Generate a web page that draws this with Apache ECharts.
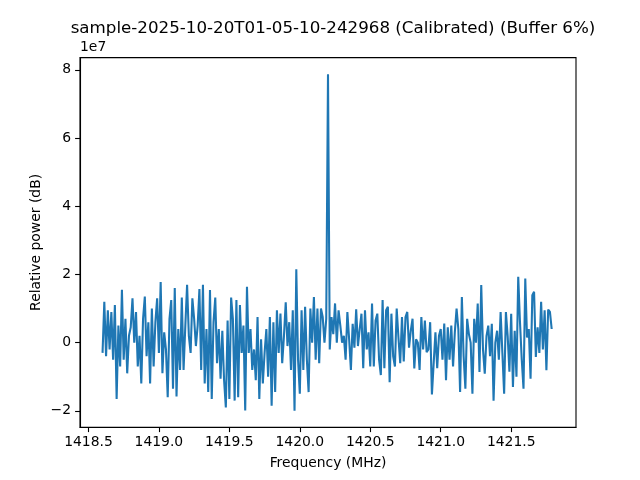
<!DOCTYPE html>
<html>
<head>
<meta charset="utf-8">
<script src="https://cdn.jsdelivr.net/npm/echarts@6/dist/echarts.min.js"></script>
<style>html,body{margin:0;padding:0;background:#fff}#c{width:640px;height:480px}</style>
</head>
<body>
<div id="c"></div>
<script>
// Frequency bins (MHz): start and step of the spectrum bins
var freqStart = 1418.6;
var freqStep = 0.0125;
// Relative power values, in units of 1e7
var power = [
-0.3,1.2,-0.4,0.95,-0.2,0.9,-0.5,1.1,-1.65,0.5,
-0.7,1.55,-0.5,0.7,-0.9,0.2,0.45,1.3,0.0,0.9,
-0.7,0.2,-1.2,0.7,1.35,-0.4,0.6,-1.2,1.0,-0.7,
0.6,1.3,-0.3,1.78,-0.9,0.3,-0.2,-1.6,0.7,1.25,
-1.35,1.6,-1.58,0.4,-0.8,1.32,-0.8,0.5,1.7,0.2,
-0.3,1.3,0.7,-0.1,0.5,1.57,-0.8,1.7,-1.2,0.4,
-1.45,1.54,-1.65,0.6,1.32,-0.6,0.4,-1.06,0.35,-1.1,
-1.9,0.65,-1.65,1.32,0.7,-1.7,1.25,-1.6,1.1,-0.3,
0.5,-1.99,1.64,-0.3,0.4,-0.8,-0.2,-1.1,0.75,-1.65,
0.1,-1.2,-0.3,0.4,-1.0,0.75,-1.85,0.6,-1.45,0.95,
-0.3,0.85,-0.6,0.2,1.18,-0.1,0.6,-0.8,0.95,-2.0,
2.15,-0.5,-1.5,0.95,-0.8,1.05,-0.5,-1.45,1.0,0.0,
1.34,-0.5,1.0,-0.6,1.0,0.75,0.0,0.7,7.87,-0.2,
0.75,0.25,1.15,0.0,0.95,0.5,0.0,0.2,-0.5,0.9,
0.1,-0.8,0.55,-0.15,0.98,-0.1,0.4,0.85,-0.75,0.95,
-0.2,0.3,-0.7,1.15,-0.7,0.65,0.85,-0.5,-0.95,1.25,
-0.75,0.95,1.05,-1.16,0.85,-0.4,-0.7,1.0,0.15,-0.6,
0.75,-0.55,0.75,0.9,-0.15,0.35,0.7,-0.76,0.1,0.0,
-0.8,0.75,-0.2,0.65,-0.28,-0.2,0.6,-1.52,-0.6,0.3,
-0.75,0.2,0.4,-0.5,0.56,-1.1,0.45,-0.5,0.5,-0.7,
0.3,1.0,0.4,-1.45,1.34,-0.4,-1.35,0.7,0.25,0.0,
-1.5,0.7,0.0,1.15,-0.86,1.69,-0.2,-0.91,0.2,0.5,
-0.4,0.55,-1.7,0.0,0.35,-0.5,0.9,-0.3,-1.5,0.9,
0.2,-0.85,0.85,-1.3,0.35,-1.0,1.93,0.6,-0.5,-1.35,
1.88,0.15,0.4,-1.06,1.39,1.49,-0.42,0.45,-0.3,1.2,
-0.2,0.95,-0.81,0.97,0.9,0.4
];
var scaleExp = 1e7;
var xTicks = [1418.5, 1419.0, 1419.5, 1420.0, 1420.5, 1421.0, 1421.5];
var yTicks = [-2e7, 0, 2e7, 4e7, 6e7, 8e7];
var titleText = 'sample-2025-10-20T01-05-10-242968 (Calibrated) (Buffer 6%)';

var data = power.map(function (v, i) { return [freqStart + i * freqStep, v * scaleExp]; });

var FONT = 'DejaVu Sans';
var chart = echarts.init(document.getElementById('c'), null, {renderer: 'canvas'});
chart.setOption({
  animation: false,
  backgroundColor: '#fff',
  textStyle: {fontFamily: FONT},
  title: {
    text: titleText,
    left: 328, top: 15, textAlign: 'center',
    textStyle: {fontFamily: FONT, fontSize: 16.7, fontWeight: 'normal', color: '#000'}
  },
  graphic: [{
    type: 'text', left: 80, top: 40,
    style: {text: '1e7', fontFamily: FONT, fontSize: 13.9, fill: '#000'}
  }],
  grid: {left: 80, right: 64, top: 57.6, bottom: 52.8, show: true, borderColor: '#000', borderWidth: 1.1, backgroundColor: 'transparent'},
  xAxis: {
    type: 'value', min: 1418.44, max: 1421.96,
    name: 'Frequency (MHz)', nameLocation: 'middle', nameGap: 29, nameMoveOverlap: false,
    nameTextStyle: {fontFamily: FONT, fontSize: 13.9, color: '#000'},
    axisLine: {show: true, onZero: false, lineStyle: {color: '#000', width: 1.1}},
    axisTick: {show: true, inside: false, length: 4.9, lineStyle: {color: '#000', width: 1.1}, customValues: xTicks},
    axisLabel: {customValues: xTicks, margin: 8, fontFamily: FONT, fontSize: 13.9, color: '#000',
      formatter: function (v) { return v.toFixed(1); }},
    splitLine: {show: false}
  },
  yAxis: {
    type: 'value', min: -2.48e7, max: 8.36e7,
    name: 'Relative power (dB)', nameLocation: 'middle', nameGap: 37, nameMoveOverlap: false,
    nameTextStyle: {fontFamily: FONT, fontSize: 13.9, color: '#000'},
    axisLine: {show: true, onZero: false, lineStyle: {color: '#000', width: 1.1}},
    axisTick: {show: true, inside: false, length: 4.9, lineStyle: {color: '#000', width: 1.1}, customValues: yTicks},
    axisLabel: {customValues: yTicks, margin: 9, fontFamily: FONT, fontSize: 13.9, color: '#000',
      formatter: function (v) { var n = Math.round(v / scaleExp); return n < 0 ? '\u2212' + Math.abs(n) : String(n); }},
    splitLine: {show: false}
  },
  series: [{
    type: 'line', data: data, showSymbol: false, symbol: 'none',
    lineStyle: {color: '#1f77b4', width: 2.08}, itemStyle: {color: '#1f77b4'}
  }]
});
</script>
</body>
</html>
